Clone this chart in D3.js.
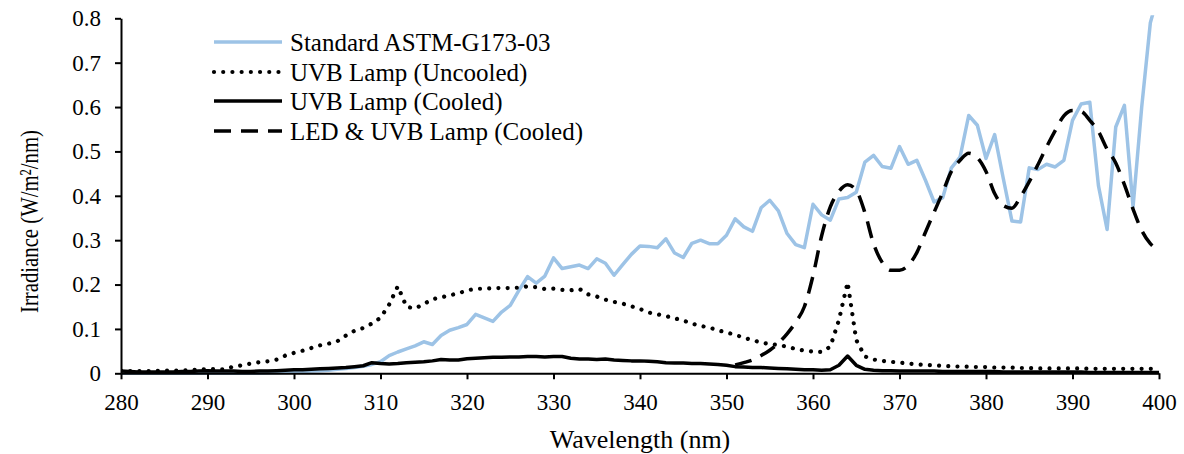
<!DOCTYPE html>
<html><head><meta charset="utf-8">
<script src="https://cdn.jsdelivr.net/npm/d3@7/dist/d3.min.js"></script>
<style>body{margin:0;background:#fff}</style>
</head><body><svg id="c" width="1184" height="454"></svg>
<script>
// ---- data ----
const startNm = 280; // first wavelength of the 1-nm sampled series
const standardValues = [
0,0,0,0,0,0,0,0,0,0,
0,0,0,0,0,0,0.0003,0.0006,0.001,0.002,
0.003,0.004,0.005,0.006,0.007,0.009,0.011,0.013,0.016,0.020,
0.026,0.040,0.048,0.055,0.062,0.071,0.065,0.085,0.097,0.103,
0.110,0.133,0.125,0.117,0.138,0.153,0.187,0.218,0.203,0.219,
0.260,0.236,0.240,0.244,0.236,0.258,0.248,0.221,0.245,0.268,
0.287,0.286,0.283,0.303,0.271,0.261,0.293,0.300,0.292,0.292,
0.311,0.348,0.330,0.320,0.373,0.390,0.366,0.315,0.290,0.283,
0.381,0.357,0.345,0.393,0.396,0.408,0.476,0.491,0.466,0.462,
0.511,0.471,0.480,0.435,0.386,0.396,0.463,0.487,0.581,0.559,
0.484,0.538,0.439,0.343,0.341,0.463,0.459,0.471,0.465,0.480,
0.570,0.607,0.611,0.423,0.324,0.555,0.604,0.375,0.600,0.790,
0.860];
const uncooledValues = [
0.006,0.005,0.005,0.005,0.005,0.006,0.006,0.006,0.007,0.008,
0.010,0.009,0.009,0.015,0.018,0.022,0.025,0.027,0.031,0.040,
0.046,0.051,0.057,0.063,0.067,0.072,0.085,0.096,0.102,0.112,
0.125,0.155,0.196,0.150,0.146,0.156,0.167,0.171,0.176,0.180,
0.187,0.190,0.191,0.192,0.192,0.192,0.193,0.196,0.194,0.190,
0.191,0.188,0.187,0.190,0.178,0.173,0.166,0.161,0.157,0.151,
0.145,0.137,0.133,0.129,0.124,0.119,0.112,0.107,0.103,0.097,
0.092,0.087,0.080,0.075,0.069,0.066,0.064,0.060,0.055,0.051,
0.049,0.048,0.060,0.120,0.205,0.075,0.038,0.031,0.028,0.026,
0.024,0.022,0.020,0.019,0.018,0.017,0.016,0.015,0.015,0.014,
0.014,0.013,0.013,0.013,0.012,0.012,0.011,0.011,0.011,0.011,
0.011,0.011,0.010,0.010,0.010,0.010,0.010,0.010,0.010,0.010,
0.010];
const cooledValues = [
0.005,0.004,0.003,0.003,0.003,0.003,0.003,0.004,0.004,0.005,
0.006,0.005,0.005,0.005,0.004,0.004,0.005,0.005,0.006,0.007,
0.008,0.008,0.009,0.010,0.011,0.012,0.013,0.015,0.017,0.024,
0.022,0.021,0.022,0.024,0.025,0.026,0.028,0.031,0.030,0.030,
0.033,0.034,0.035,0.036,0.036,0.037,0.037,0.038,0.038,0.037,
0.038,0.038,0.034,0.032,0.032,0.031,0.032,0.030,0.029,0.028,
0.028,0.027,0.026,0.024,0.023,0.023,0.022,0.022,0.021,0.020,
0.018,0.015,0.014,0.013,0.013,0.012,0.011,0.010,0.009,0.008,
0.008,0.007,0.008,0.018,0.039,0.018,0.009,0.007,0.006,0.006,
0.005,0.005,0.005,0.005,0.005,0.004,0.004,0.004,0.004,0.004,
0.004,0.004,0.003,0.003,0.003,0.003,0.003,0.003,0.003,0.003,
0.003,0.003,0.002,0.002,0.002,0.002,0.002,0.002,0.002,0.002,
0.002];
const ledStartNm = 351; // LED & UVB series starts here
const ledValues = [
0.019,0.024,0.030,0.040,0.052,0.068,0.089,0.115,0.150,
0.220,0.310,0.375,0.410,0.425,0.412,0.362,0.292,0.250,0.232,
0.232,0.243,0.272,0.318,0.363,0.408,0.455,0.480,0.496,0.486,
0.455,0.405,0.378,0.372,0.398,0.432,0.470,0.510,0.547,0.580,
0.592,0.590,0.570,0.545,0.505,0.474,0.425,0.370,0.322,0.292,
0.277];
const seriesNames = ["Standard ASTM-G173-03","UVB Lamp (Uncooled)","UVB Lamp (Cooled)","LED & UVB Lamp (Cooled)"];
const xTicks = [280,290,300,310,320,330,340,350,360,370,380,390,400];
const yTicks = [0,0.1,0.2,0.3,0.4,0.5,0.6,0.7,0.8];
const yTickLabels = ["0","0.1","0.2","0.3","0.4","0.5","0.6","0.7","0.8"];
const xTitle = "Wavelength (nm)";
const yTitle = "Irradiance (W/m²/nm)";

// ---- layout ----
const svg = d3.select("#c");
const L = 121, R = 1159, T = 18.3, B = 373.3;
const x = d3.scaleLinear().domain([280,400]).range([L,R]);
const y = d3.scaleLinear().domain([0,0.8]).range([B,T]);
const font = "'Liberation Serif','Times New Roman',serif";

const toPts = (vals, s) => vals.map((v,i)=>({nm:s+i, v}));
const series = [
  {name:seriesNames[0], pts:toPts(standardValues,startNm), color:"#9dc3e6", dash:null, cap:"butt", w:3.5, curve:d3.curveLinear},
  {name:seriesNames[1], pts:toPts(uncooledValues,startNm), color:"#000", dash:"0.01 9.2", cap:"round", w:4.2, curve:d3.curveLinear},
  {name:seriesNames[2], pts:toPts(cooledValues,startNm), color:"#000", dash:null, cap:"butt", w:3.5, curve:d3.curveLinear},
  {name:seriesNames[3], pts:toPts(ledValues,ledStartNm), color:"#000", dash:"17 10", cap:"butt", w:3.5, curve:d3.curveMonotoneX}
];

svg.append("defs").append("clipPath").attr("id","clip")
  .append("rect").attr("x",L).attr("y",T-3).attr("width",R-L+2).attr("height",B-T+6);

const g = svg.append("g").attr("clip-path","url(#clip)");
series.forEach(s=>{
  const line = d3.line().x(d=>x(d.nm)).y(d=>y(d.v)).curve(s.curve);
  g.append("path").datum(s.pts).attr("d",line)
    .attr("fill","none").attr("stroke",s.color).attr("stroke-width",s.w)
    .attr("stroke-linejoin","round").attr("stroke-linecap",s.cap)
    .attr("stroke-dasharray",s.dash);
});

// axes
const yAxis = d3.axisLeft(y).tickValues(yTicks).tickSize(6).tickSizeOuter(0).tickPadding(14)
  .tickFormat((d,i)=>yTickLabels[i]);
const ya = svg.append("g").attr("transform",`translate(${L},0)`).call(yAxis);
const xAxis = d3.axisBottom(x).tickValues(xTicks).tickSize(6).tickSizeOuter(0).tickFormat(d=>String(d));
const xa = svg.append("g").attr("transform",`translate(0,${B})`).call(xAxis);
[ya,xa].forEach(a=>{
  a.select(".domain").attr("stroke","#000").attr("stroke-width",2);
  a.selectAll(".tick line").attr("stroke","#000").attr("stroke-width",2);
  a.selectAll("text").attr("font-family",font).attr("font-size",23).attr("fill","#000");
});
xa.selectAll("text").attr("dy",null).attr("y",410-B);

// titles
svg.append("text").attr("x",(L+R)/2).attr("y",448).attr("text-anchor","middle")
  .attr("font-family",font).attr("font-size",26).text(xTitle);
svg.append("text").attr("transform","translate(38,221.5) rotate(-90)")
  .attr("text-anchor","middle").attr("font-family",font).attr("font-size",26)
  .attr("textLength",183).attr("lengthAdjust","spacingAndGlyphs").text(yTitle);

// legend
const rows = [42,72,101,131];
series.forEach((s,i)=>{
  svg.append("line").attr("x1",214).attr("x2",282).attr("y1",rows[i]).attr("y2",rows[i])
    .attr("stroke",s.color).attr("stroke-width",s.w).attr("stroke-linecap",s.cap)
    .attr("stroke-dasharray",s.dash);
  svg.append("text").attr("x",290).attr("y",rows[i]+8.5)
    .attr("font-family",font).attr("font-size",25).text(s.name);
});
</script></body></html>
